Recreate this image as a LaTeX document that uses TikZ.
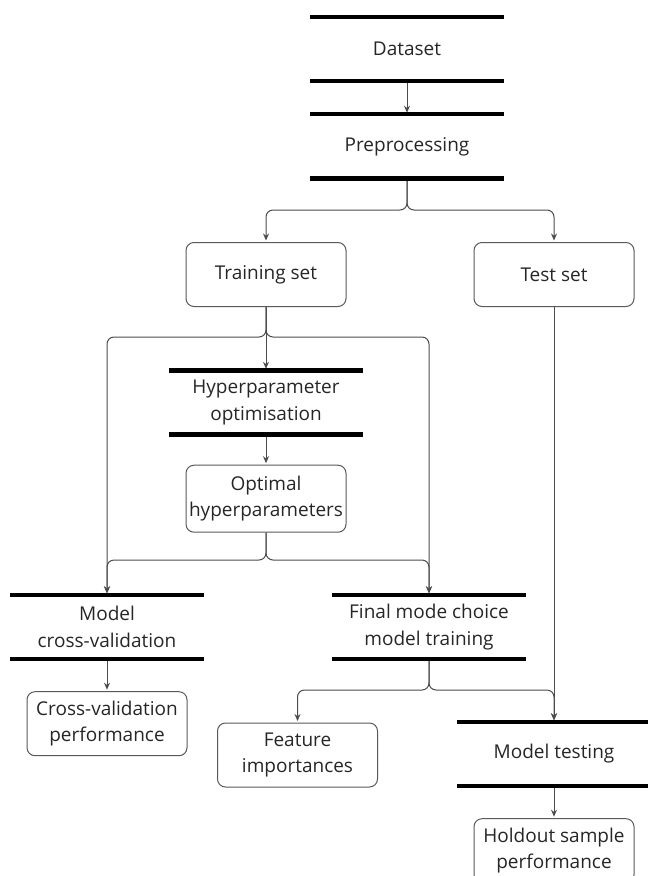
\documentclass[tikz,border=0pt]{standalone}
\usepackage{fontspec}
\setmainfont{Open Sans}
\usetikzlibrary{calc}
\usetikzlibrary{positioning}
\usetikzlibrary{arrows.meta}
\tikzset{
	>={Stealth[length=7pt,width=6pt]},
	kasten/.style={
		rectangle,
		rounded corners=8pt,
		draw=black!65, line width=1pt,
		minimum width=160pt,
		minimum height=64pt,
		inner sep=2pt,
		align=center},
	balken/.style={
		rectangle,
		minimum width=194pt,
		minimum height=64pt,
		align=center},
	line/.style={draw, black!70, line width=1pt, ->, rounded corners=7pt, shorten >=1.5pt},
	bar/.style={draw, black, line width=4.5pt},
}
\begin{document}
\begin{tikzpicture}
	[x=1pt, y=-1pt, font=\fontsize{19}{26.5}\selectfont, text=black!85]
	\useasboundingbox (0,0) rectangle (648,876);
	% steps between bars and result boxes
	\node[balken] (daten) at (407,49) {Dataset};
	\node[balken, below=33pt of daten] (vorver) {Preprocessing};
	\node[kasten] (train) at (266,274.5) {Training set};
	\node[kasten] (testset) at (554,274.5) {Test set};
	\node[balken] (hyper) at (266,402.5) {Hyperparameter\\optimisation};
	\node[kasten, minimum height=67pt, below=30pt of hyper] (optim) {Optimal\\hyperparameters};
	\node[balken] (cv) at (107,627) {Model\\cross-validation};
	\node[balken] (final) at (429,627) {Final mode choice\\model training};
	\node[kasten, below=32pt of cv] (cvperf) {Cross-validation\\performance};
	\node[kasten] (feat) at (297.5,755) {Feature\\importances};
	\node[balken] (mtest) at (554,754) {Model testing};
	\node[kasten, below=32pt of mtest] (hold) {Holdout sample\\performance};

	% split points
	\coordinate (s1) at (407,210);
	\coordinate (s2) at (266,337);
	\coordinate (s3) at (266,560);
	\coordinate (s4) at (429,690);

	\draw[line] (daten) -- (vorver);
	\draw[line] (vorver.south) -- (s1) -| (train.north);
	\draw[line] (vorver.south) -- (s1) -| (testset.north);
	\draw[line] (train.south) -- (s2) -| (cv.north);
	\draw[line] (train.south) -- (s2) -| (final.north);
	\draw[line] (train) -- (hyper);
	\draw[line] (hyper) -- (optim);
	\draw[line] (optim.south) -- (s3) -| (cv.north);
	\draw[line] (optim.south) -- (s3) -| (final.north);
	\draw[line] (cv) -- (cvperf);
	\draw[line] (final.south) -- (s4) -| (feat.north);
	\draw[line] (final.south) -- (s4) -| (mtest.north);
	\draw[line] (testset) -- (mtest);
	\draw[line] (mtest) -- (hold);

	% thick bars above and below each step
	\foreach \n in {daten,vorver,hyper,cv,final,mtest}
		\draw[bar] (\n.north west) -- (\n.north east) (\n.south west) -- (\n.south east);
\end{tikzpicture}
\end{document}
